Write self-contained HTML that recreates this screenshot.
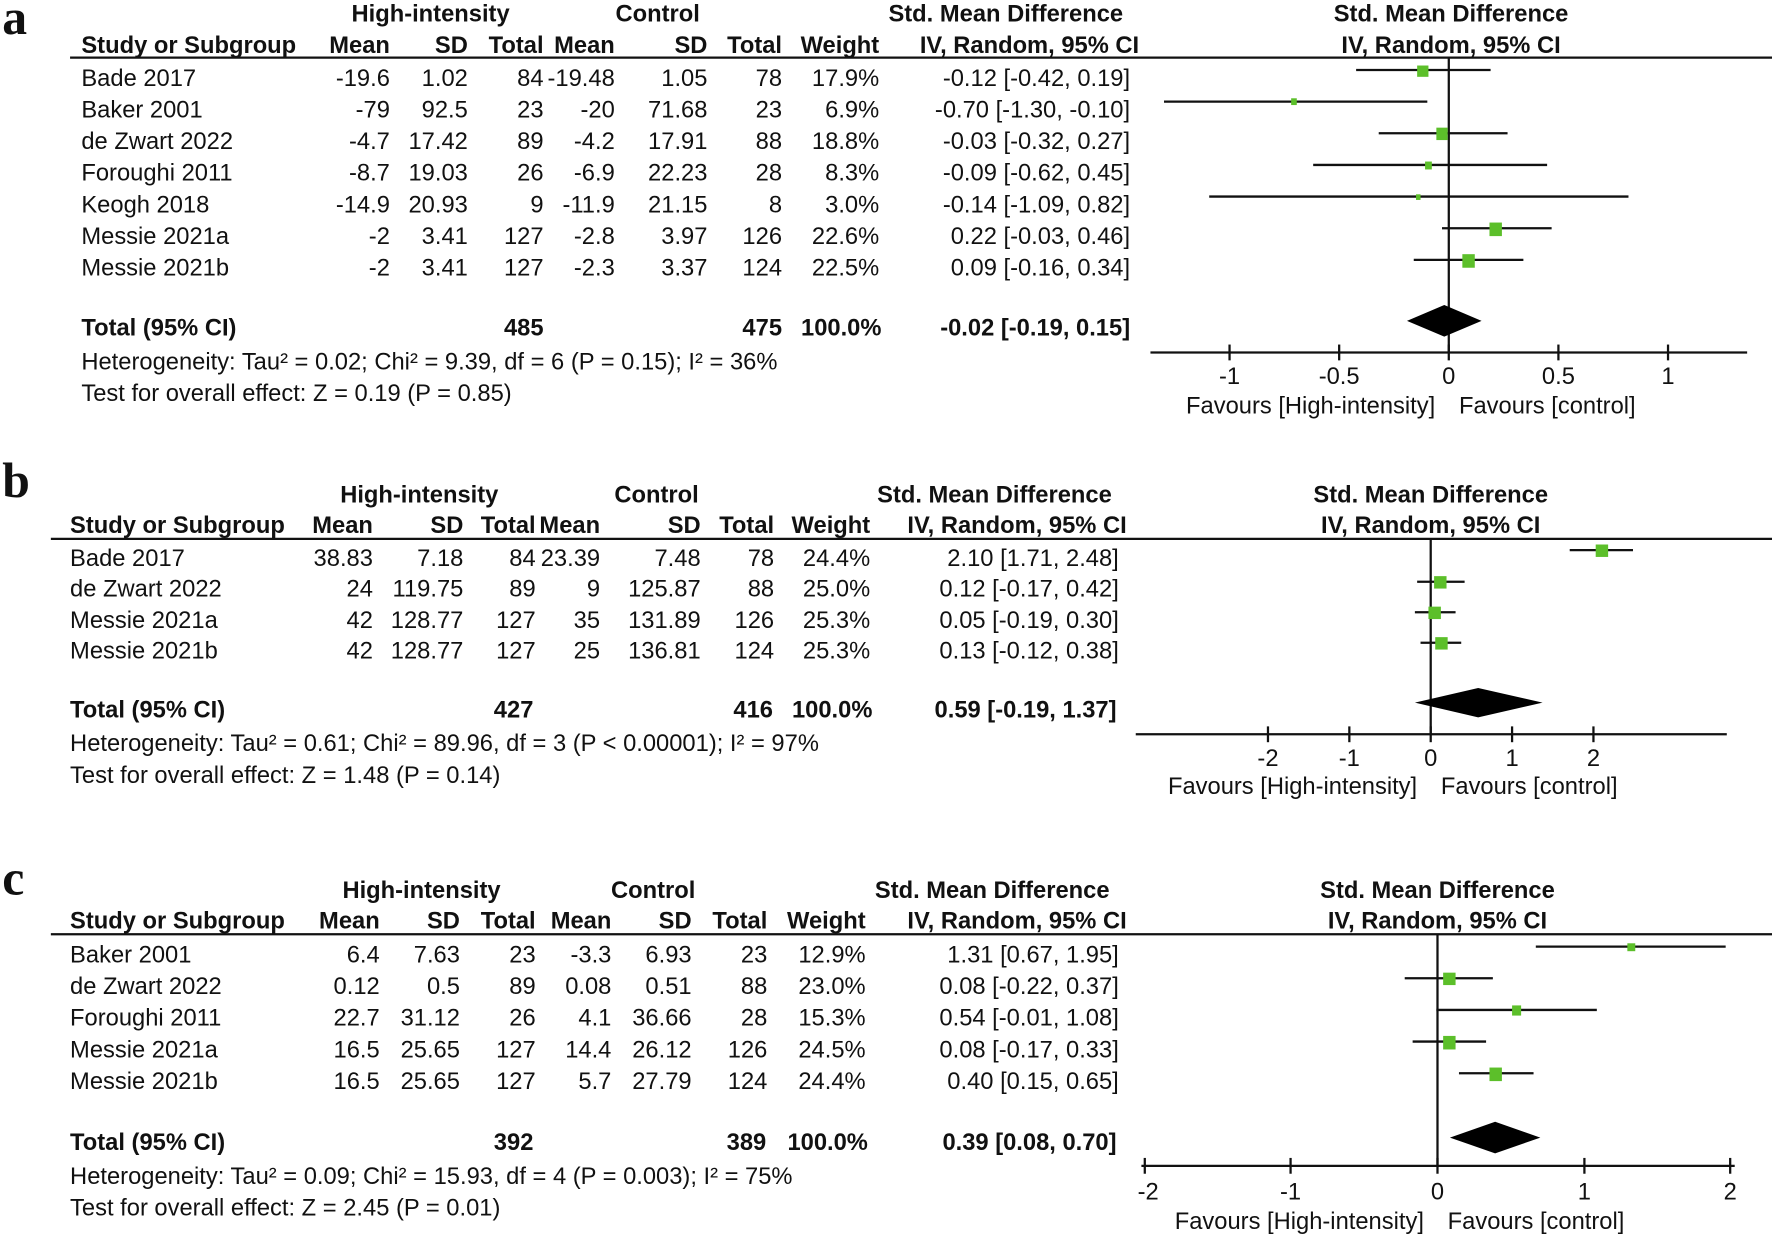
<!DOCTYPE html>
<html><head><meta charset="utf-8"><style>
html,body{margin:0;padding:0;background:#fff;}
svg{display:block;}
text{font-family:"Liberation Sans",Arial,sans-serif;font-size:21px;fill:#111;}
.b{font-weight:bold;}
.e{text-anchor:end;}
.m{text-anchor:middle;}
.lab{font-family:"Liberation Serif",serif;font-size:44px;font-weight:bold;}
line{stroke:#111;stroke-width:2;}
.sq{fill:#5cbf2a;}
</style></head><body>
<svg width="1772" height="1237" viewBox="0 0 1568 1095" preserveAspectRatio="none" xmlns="http://www.w3.org/2000/svg">
<!-- PANEL A -->
<text class="lab" x="2" y="30">a</text>
<g class="b">
<text class="m" x="381" y="19">High-intensity</text>
<text class="m" x="582" y="19">Control</text>
<text class="m" x="890" y="19">Std. Mean Difference</text>
<text class="m" x="1284" y="19">Std. Mean Difference</text>
<text x="72" y="47">Study or Subgroup</text>
<text class="e" x="345" y="47">Mean</text>
<text class="e" x="414" y="47">SD</text>
<text class="e" x="481" y="47">Total</text>
<text class="e" x="544" y="47">Mean</text>
<text class="e" x="626" y="47">SD</text>
<text class="e" x="692" y="47">Total</text>
<text class="e" x="778" y="47">Weight</text>
<text class="e" x="1008" y="47">IV, Random, 95% CI</text>
<text class="m" x="1284" y="47">IV, Random, 95% CI</text>
</g>
<line x1="62" y1="51" x2="1568" y2="51"/>
<g>
<text x="72" y="76">Bade 2017</text><text class="e" x="345" y="76">-19.6</text><text class="e" x="414" y="76">1.02</text><text class="e" x="481" y="76">84</text><text class="e" x="544" y="76">-19.48</text><text class="e" x="626" y="76">1.05</text><text class="e" x="692" y="76">78</text><text class="e" x="778" y="76">17.9%</text><text class="e" x="1000" y="76">-0.12 [-0.42, 0.19]</text>
<text x="72" y="104">Baker 2001</text><text class="e" x="345" y="104">-79</text><text class="e" x="414" y="104">92.5</text><text class="e" x="481" y="104">23</text><text class="e" x="544" y="104">-20</text><text class="e" x="626" y="104">71.68</text><text class="e" x="692" y="104">23</text><text class="e" x="778" y="104">6.9%</text><text class="e" x="1000" y="104">-0.70 [-1.30, -0.10]</text>
<text x="72" y="132">de Zwart 2022</text><text class="e" x="345" y="132">-4.7</text><text class="e" x="414" y="132">17.42</text><text class="e" x="481" y="132">89</text><text class="e" x="544" y="132">-4.2</text><text class="e" x="626" y="132">17.91</text><text class="e" x="692" y="132">88</text><text class="e" x="778" y="132">18.8%</text><text class="e" x="1000" y="132">-0.03 [-0.32, 0.27]</text>
<text x="72" y="160">Foroughi 2011</text><text class="e" x="345" y="160">-8.7</text><text class="e" x="414" y="160">19.03</text><text class="e" x="481" y="160">26</text><text class="e" x="544" y="160">-6.9</text><text class="e" x="626" y="160">22.23</text><text class="e" x="692" y="160">28</text><text class="e" x="778" y="160">8.3%</text><text class="e" x="1000" y="160">-0.09 [-0.62, 0.45]</text>
<text x="72" y="188">Keogh 2018</text><text class="e" x="345" y="188">-14.9</text><text class="e" x="414" y="188">20.93</text><text class="e" x="481" y="188">9</text><text class="e" x="544" y="188">-11.9</text><text class="e" x="626" y="188">21.15</text><text class="e" x="692" y="188">8</text><text class="e" x="778" y="188">3.0%</text><text class="e" x="1000" y="188">-0.14 [-1.09, 0.82]</text>
<text x="72" y="216">Messie 2021a</text><text class="e" x="345" y="216">-2</text><text class="e" x="414" y="216">3.41</text><text class="e" x="481" y="216">127</text><text class="e" x="544" y="216">-2.8</text><text class="e" x="626" y="216">3.97</text><text class="e" x="692" y="216">126</text><text class="e" x="778" y="216">22.6%</text><text class="e" x="1000" y="216">0.22 [-0.03, 0.46]</text>
<text x="72" y="244">Messie 2021b</text><text class="e" x="345" y="244">-2</text><text class="e" x="414" y="244">3.41</text><text class="e" x="481" y="244">127</text><text class="e" x="544" y="244">-2.3</text><text class="e" x="626" y="244">3.37</text><text class="e" x="692" y="244">124</text><text class="e" x="778" y="244">22.5%</text><text class="e" x="1000" y="244">0.09 [-0.16, 0.34]</text>
</g>
<g class="b">
<text x="72" y="297">Total (95% CI)</text><text class="e" x="481" y="297">485</text><text class="e" x="692" y="297">475</text><text class="e" x="780" y="297">100.0%</text><text class="e" x="1000" y="297">-0.02 [-0.19, 0.15]</text>
</g>
<text x="72" y="327">Heterogeneity: Tau² = 0.02; Chi² = 9.39, df = 6 (P = 0.15); I² = 36%</text>
<text x="72" y="355">Test for overall effect: Z = 0.19 (P = 0.85)</text>
<line x1="1282" y1="51" x2="1282" y2="312"/>
<line x1="1018" y1="312" x2="1546" y2="312"/>
<line x1="1088" y1="305" x2="1088" y2="319"/><line x1="1185" y1="305" x2="1185" y2="319"/><line x1="1282" y1="305" x2="1282" y2="319"/><line x1="1379" y1="305" x2="1379" y2="319"/><line x1="1476" y1="305" x2="1476" y2="319"/>
<text class="m" x="1088" y="340">-1</text><text class="m" x="1185" y="340">-0.5</text><text class="m" x="1282" y="340">0</text><text class="m" x="1379" y="340">0.5</text><text class="m" x="1476" y="340">1</text>
<text class="e" x="1270" y="366">Favours [High-intensity]</text><text x="1291" y="366">Favours [control]</text>
<line x1="1200" y1="62" x2="1319" y2="62"/><rect class="sq" x="1254" y="58" width="10" height="10"/>
<line x1="1030" y1="90" x2="1263" y2="90"/><rect class="sq" x="1142.5" y="87" width="5" height="6"/>
<line x1="1220" y1="118" x2="1334" y2="118"/><rect class="sq" x="1271" y="113" width="10" height="11"/>
<line x1="1162" y1="146" x2="1369" y2="146"/><rect class="sq" x="1261" y="143" width="6" height="7"/>
<line x1="1070" y1="174" x2="1441" y2="174"/><rect class="sq" x="1253" y="172" width="4" height="5"/>
<line x1="1276" y1="202" x2="1373" y2="202"/><rect class="sq" x="1318" y="197" width="11" height="12"/>
<line x1="1251" y1="230" x2="1348" y2="230"/><rect class="sq" x="1294" y="225" width="11" height="12"/>
<polygon points="1245,284 1278,270 1311,284 1278,298" fill="#000"/>

<!-- PANEL B -->
<text class="lab" x="2" y="440">b</text>
<g class="b">
<text class="m" x="371" y="445">High-intensity</text>
<text class="m" x="581" y="445">Control</text>
<text class="m" x="880" y="445">Std. Mean Difference</text>
<text class="m" x="1266" y="445">Std. Mean Difference</text>
<text x="62" y="472">Study or Subgroup</text>
<text class="e" x="330" y="472">Mean</text>
<text class="e" x="410" y="472">SD</text>
<text class="e" x="474" y="472">Total</text>
<text class="e" x="531" y="472">Mean</text>
<text class="e" x="620" y="472">SD</text>
<text class="e" x="685" y="472">Total</text>
<text class="e" x="770" y="472">Weight</text>
<text class="e" x="997" y="472">IV, Random, 95% CI</text>
<text class="m" x="1266" y="472">IV, Random, 95% CI</text>
</g>
<line x1="45" y1="477" x2="1568" y2="477"/>
<text x="62" y="501">Bade 2017</text><text class="e" x="330" y="501">38.83</text><text class="e" x="410" y="501">7.18</text><text class="e" x="474" y="501">84</text><text class="e" x="531" y="501">23.39</text><text class="e" x="620" y="501">7.48</text><text class="e" x="685" y="501">78</text><text class="e" x="770" y="501">24.4%</text><text class="e" x="990" y="501">2.10 [1.71, 2.48]</text>
<text x="62" y="528">de Zwart 2022</text><text class="e" x="330" y="528">24</text><text class="e" x="410" y="528">119.75</text><text class="e" x="474" y="528">89</text><text class="e" x="531" y="528">9</text><text class="e" x="620" y="528">125.87</text><text class="e" x="685" y="528">88</text><text class="e" x="770" y="528">25.0%</text><text class="e" x="990" y="528">0.12 [-0.17, 0.42]</text>
<text x="62" y="556">Messie 2021a</text><text class="e" x="330" y="556">42</text><text class="e" x="410" y="556">128.77</text><text class="e" x="474" y="556">127</text><text class="e" x="531" y="556">35</text><text class="e" x="620" y="556">131.89</text><text class="e" x="685" y="556">126</text><text class="e" x="770" y="556">25.3%</text><text class="e" x="990" y="556">0.05 [-0.19, 0.30]</text>
<text x="62" y="583">Messie 2021b</text><text class="e" x="330" y="583">42</text><text class="e" x="410" y="583">128.77</text><text class="e" x="474" y="583">127</text><text class="e" x="531" y="583">25</text><text class="e" x="620" y="583">136.81</text><text class="e" x="685" y="583">124</text><text class="e" x="770" y="583">25.3%</text><text class="e" x="990" y="583">0.13 [-0.12, 0.38]</text>
<g class="b">
<text x="62" y="635">Total (95% CI)</text><text class="e" x="472" y="635">427</text><text class="e" x="684" y="635">416</text><text class="e" x="772" y="635">100.0%</text><text class="e" x="988" y="635">0.59 [-0.19, 1.37]</text>
</g>
<text x="62" y="665">Heterogeneity: Tau² = 0.61; Chi² = 89.96, df = 3 (P &lt; 0.00001); I² = 97%</text>
<text x="62" y="693">Test for overall effect: Z = 1.48 (P = 0.14)</text>
<line x1="1266" y1="477" x2="1266" y2="650"/>
<line x1="1005" y1="650" x2="1528" y2="650"/>
<line x1="1122" y1="643" x2="1122" y2="657"/><line x1="1194" y1="643" x2="1194" y2="657"/><line x1="1266" y1="643" x2="1266" y2="657"/><line x1="1338" y1="643" x2="1338" y2="657"/><line x1="1410" y1="643" x2="1410" y2="657"/>
<text class="m" x="1122" y="678">-2</text><text class="m" x="1194" y="678">-1</text><text class="m" x="1266" y="678">0</text><text class="m" x="1338" y="678">1</text><text class="m" x="1410" y="678">2</text>
<text class="e" x="1254" y="703">Favours [High-intensity]</text><text x="1275" y="703">Favours [control]</text>
<line x1="1389" y1="487" x2="1445" y2="487"/><rect class="sq" x="1412" y="482" width="11" height="11"/>
<line x1="1254" y1="515" x2="1296" y2="515"/><rect class="sq" x="1269" y="510" width="11" height="11"/>
<line x1="1252" y1="542" x2="1288" y2="542"/><rect class="sq" x="1264" y="537" width="11" height="11"/>
<line x1="1257" y1="569" x2="1293" y2="569"/><rect class="sq" x="1270" y="564" width="11" height="11"/>
<polygon points="1252,622 1308,609 1365,622 1308,635" fill="#000"/>

<!-- PANEL C -->
<text class="lab" x="2" y="792">c</text>
<g class="b">
<text class="m" x="373" y="795">High-intensity</text>
<text class="m" x="578" y="795">Control</text>
<text class="m" x="878" y="795">Std. Mean Difference</text>
<text class="m" x="1272" y="795">Std. Mean Difference</text>
<text x="62" y="822">Study or Subgroup</text>
<text class="e" x="336" y="822">Mean</text>
<text class="e" x="407" y="822">SD</text>
<text class="e" x="474" y="822">Total</text>
<text class="e" x="541" y="822">Mean</text>
<text class="e" x="612" y="822">SD</text>
<text class="e" x="679" y="822">Total</text>
<text class="e" x="766" y="822">Weight</text>
<text class="e" x="997" y="822">IV, Random, 95% CI</text>
<text class="m" x="1272" y="822">IV, Random, 95% CI</text>
</g>
<line x1="45" y1="827" x2="1568" y2="827"/>
<text x="62" y="852">Baker 2001</text><text class="e" x="336" y="852">6.4</text><text class="e" x="407" y="852">7.63</text><text class="e" x="474" y="852">23</text><text class="e" x="541" y="852">-3.3</text><text class="e" x="612" y="852">6.93</text><text class="e" x="679" y="852">23</text><text class="e" x="766" y="852">12.9%</text><text class="e" x="990" y="852">1.31 [0.67, 1.95]</text>
<text x="62" y="880">de Zwart 2022</text><text class="e" x="336" y="880">0.12</text><text class="e" x="407" y="880">0.5</text><text class="e" x="474" y="880">89</text><text class="e" x="541" y="880">0.08</text><text class="e" x="612" y="880">0.51</text><text class="e" x="679" y="880">88</text><text class="e" x="766" y="880">23.0%</text><text class="e" x="990" y="880">0.08 [-0.22, 0.37]</text>
<text x="62" y="908">Foroughi 2011</text><text class="e" x="336" y="908">22.7</text><text class="e" x="407" y="908">31.12</text><text class="e" x="474" y="908">26</text><text class="e" x="541" y="908">4.1</text><text class="e" x="612" y="908">36.66</text><text class="e" x="679" y="908">28</text><text class="e" x="766" y="908">15.3%</text><text class="e" x="990" y="908">0.54 [-0.01, 1.08]</text>
<text x="62" y="936">Messie 2021a</text><text class="e" x="336" y="936">16.5</text><text class="e" x="407" y="936">25.65</text><text class="e" x="474" y="936">127</text><text class="e" x="541" y="936">14.4</text><text class="e" x="612" y="936">26.12</text><text class="e" x="679" y="936">126</text><text class="e" x="766" y="936">24.5%</text><text class="e" x="990" y="936">0.08 [-0.17, 0.33]</text>
<text x="62" y="964">Messie 2021b</text><text class="e" x="336" y="964">16.5</text><text class="e" x="407" y="964">25.65</text><text class="e" x="474" y="964">127</text><text class="e" x="541" y="964">5.7</text><text class="e" x="612" y="964">27.79</text><text class="e" x="679" y="964">124</text><text class="e" x="766" y="964">24.4%</text><text class="e" x="990" y="964">0.40 [0.15, 0.65]</text>
<g class="b">
<text x="62" y="1018">Total (95% CI)</text><text class="e" x="472" y="1018">392</text><text class="e" x="678" y="1018">389</text><text class="e" x="768" y="1018">100.0%</text><text class="e" x="988" y="1018">0.39 [0.08, 0.70]</text>
</g>
<text x="62" y="1048">Heterogeneity: Tau² = 0.09; Chi² = 15.93, df = 4 (P = 0.003); I² = 75%</text>
<text x="62" y="1076">Test for overall effect: Z = 2.45 (P = 0.01)</text>
<line x1="1272" y1="827" x2="1272" y2="1032"/>
<line x1="1010" y1="1032" x2="1535" y2="1032"/>
<line x1="1013" y1="1025" x2="1013" y2="1039"/><line x1="1142" y1="1025" x2="1142" y2="1039"/><line x1="1272" y1="1025" x2="1272" y2="1039"/><line x1="1402" y1="1025" x2="1402" y2="1039"/><line x1="1531" y1="1025" x2="1531" y2="1039"/>
<text class="m" x="1016" y="1062">-2</text><text class="m" x="1142" y="1062">-1</text><text class="m" x="1272" y="1062">0</text><text class="m" x="1402" y="1062">1</text><text class="m" x="1531" y="1062">2</text>
<text class="e" x="1260" y="1088">Favours [High-intensity]</text><text x="1281" y="1088">Favours [control]</text>
<line x1="1359" y1="838" x2="1527" y2="838"/><rect class="sq" x="1440" y="835" width="7" height="7"/>
<line x1="1243" y1="866" x2="1321" y2="866"/><rect class="sq" x="1277" y="861" width="11" height="11"/>
<line x1="1271" y1="894" x2="1413" y2="894"/><rect class="sq" x="1338" y="890" width="8" height="9"/>
<line x1="1250" y1="922" x2="1315" y2="922"/><rect class="sq" x="1277" y="917" width="11" height="12"/>
<line x1="1291" y1="950" x2="1357" y2="950"/><rect class="sq" x="1318" y="945" width="11" height="12"/>
<polygon points="1283,1007 1323,993 1363,1007 1323,1021" fill="#000"/>
</svg>
</body></html>
